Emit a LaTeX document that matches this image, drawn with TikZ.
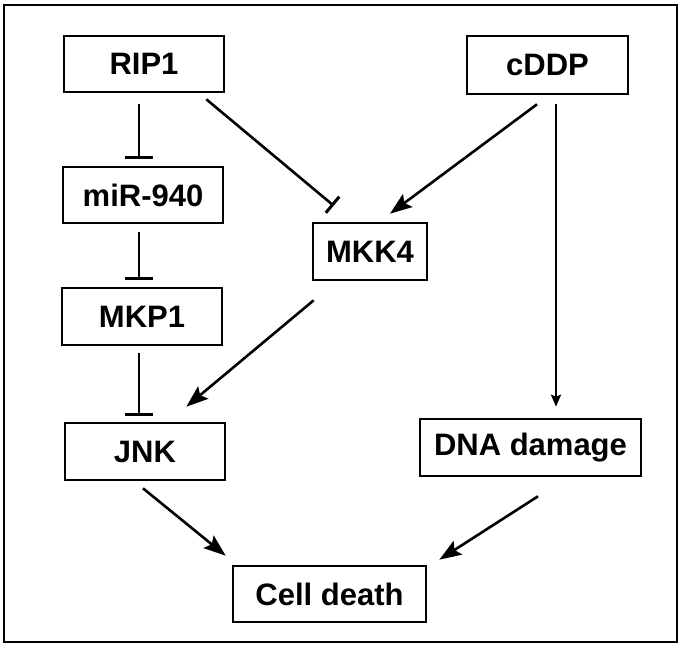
\documentclass[tikz,border=0pt]{standalone}
\usepackage{fontspec}
\setmainfont{Liberation Sans}
\usetikzlibrary{arrows.meta,calc}
\tikzset{
  gbox/.style={draw, line width=2.6pt, inner sep=0pt, font=\fontsize{31}{36}\selectfont\bfseries},
  conn/.style={line width=2.6pt},
  act/.style={conn, -{Stealth[length=22pt,width=16pt,inset=4pt]}},
  actsmall/.style={conn, -{Stealth[length=12pt,width=10pt,inset=2pt]}},
  inh/.style={conn, -{Bar[width=28pt,line width=3pt]}},
  inhs/.style={conn, -{Bar[width=21pt,line width=3pt]}}
}
\begin{document}
\begin{tikzpicture}[x=1pt,y=-1pt]
\useasboundingbox (0,0) rectangle (684,647);
\draw[line width=2.6pt] (4,5) rectangle (677,642);
\node[gbox, minimum width=160pt, minimum height=56pt] (rip) at (144,64) {RIP1};
\node[gbox, minimum width=160pt, minimum height=56pt] (mir) at (143,195) {miR-940};
\node[gbox, minimum width=160pt, minimum height=57pt] (mkp) at (142,316.5) {MKP1};
\node[gbox, minimum width=160pt, minimum height=57pt] (jnk) at (145,451.5) {JNK};
\node[gbox, minimum width=193pt, minimum height=56pt] (cell) at (329.5,594) {Cell death};
\node[gbox, minimum width=161pt, minimum height=58pt] (cddp) at (547.5,65) {cDDP};
\node[gbox, minimum width=114pt, minimum height=57pt] (mkk) at (370,251.5) {MKK4};
\node[gbox, minimum width=221pt, minimum height=57pt] (dna) at (530.5,447.5) {DNA damage};

\draw[inh] ($(rip.south)+(-5,11)$) -- ($(mir.north)+(-4,-7)$);
\draw[inh] ($(mir.south)+(-4,8)$) -- ($(mkp.north)+(-3,-7)$);
\draw[inh] ($(mkp.south)+(-3,7)$) -- ($(jnk.north)+(-6,-6)$);
\draw[inhs] ($(rip.south east)+(-19,6)$) -- ($(mkk.north west)+(22,-16)$);
\draw[act] ($(cddp.south)+(-10.5,9)$) -- ($(mkk.north)+(20,-8)$);
\draw[actsmall] ($(cddp.south)+(8.5,9)$) -- ($(dna.north)+(25.5,-11)$);
\draw[act] ($(mkk.south west)+(2,19)$) -- ($(jnk.north east)+(-40,-15)$);
\draw[act] ($(jnk.south)+(-2,7)$) -- ($(cell.north west)+(-6,-9)$);
\draw[act] ($(dna.south)+(7.5,19)$) -- ($(cell.north east)+(12,-5)$);
\end{tikzpicture}
\end{document}
